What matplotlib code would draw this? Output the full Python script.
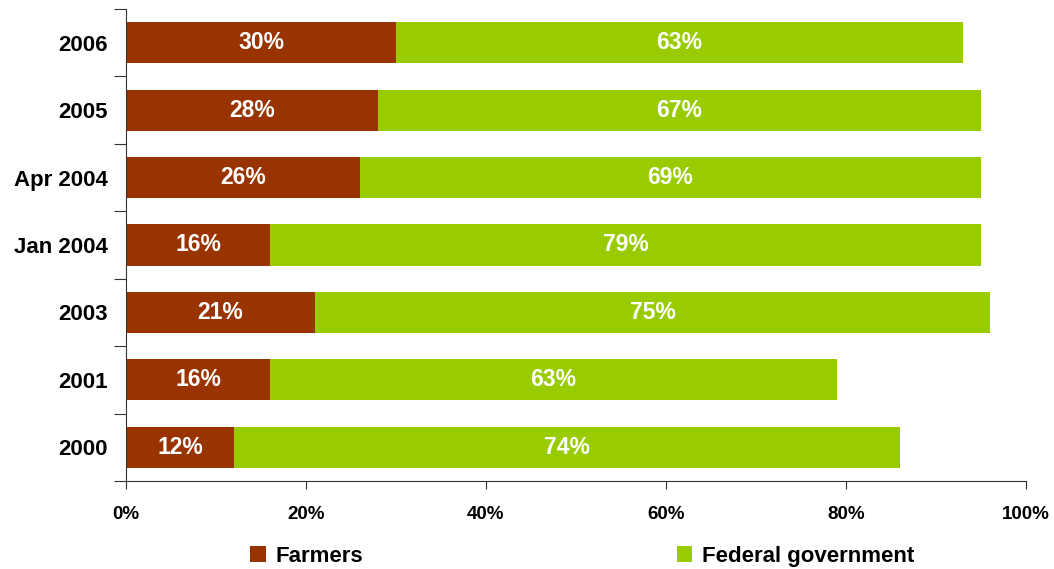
import numpy as np
import matplotlib.pyplot as plt

# survey rounds, bottom to top
periods = ["2000", "2001", "2003", "Jan 2004", "Apr 2004", "2005", "2006"]
farmers = [12, 16, 21, 16, 26, 28, 30]
federal = [74, 63, 75, 79, 69, 67, 63]

plt.rcParams['font.family'] = ['Liberation Sans', 'DejaVu Sans']
plt.rcParams['font.weight'] = 'bold'

fig = plt.figure(figsize=(10.54, 5.69), dpi=100)
ax = fig.add_axes([0.1195, 0.1547, 0.8539, 0.8295])

y = np.arange(len(periods))
b1 = ax.barh(y, farmers, height=0.61, color="#993300", label="Farmers")
b2 = ax.barh(y, federal, left=farmers, height=0.61, color="#99CC00",
             label="Federal government")

for i in range(len(periods)):
    ax.text(farmers[i] / 2, y[i], f"{farmers[i]}%", ha="center", va="center",
            color="white", fontsize=16.5, fontweight="bold")
    ax.text(farmers[i] + federal[i] / 2, y[i], f"{federal[i]}%", ha="center",
            va="center", color="white", fontsize=16.5, fontweight="bold")

ax.set_xlim(0, 100)
ax.set_ylim(-0.5, len(periods) - 0.5)
ax.set_xticks(np.arange(0, 101, 20))
ax.set_xticklabels([f"{v}%" for v in range(0, 101, 20)], fontsize=13.5, fontweight="bold")
ax.tick_params(axis="x", length=6, pad=12, color="#333333")

# tick marks between categories, labels at the centres
ax.set_yticks(np.arange(len(periods) + 1) - 0.5)
ax.set_yticklabels([])
ax.set_yticks(y, minor=True)
ax.set_yticklabels(periods, minor=True, fontsize=16, fontweight="bold")
ax.tick_params(axis="y", which="major", length=9, color="#333333")
ax.tick_params(axis="y", which="minor", length=0, pad=13)

for s in ["top", "right"]:
    ax.spines[s].set_visible(False)
for s in ["left", "bottom"]:
    ax.spines[s].set_color("#333333")

fig.legend(handles=[b1, b2], loc="center", bbox_to_anchor=(0.5527, 0.022),
           ncol=2, frameon=False, handlelength=0.7,
           handleheight=0.7, handletextpad=0.45, columnspacing=14.1,
           prop={"weight": "bold", "size": 16})

fig.savefig("out.png", dpi=100)
